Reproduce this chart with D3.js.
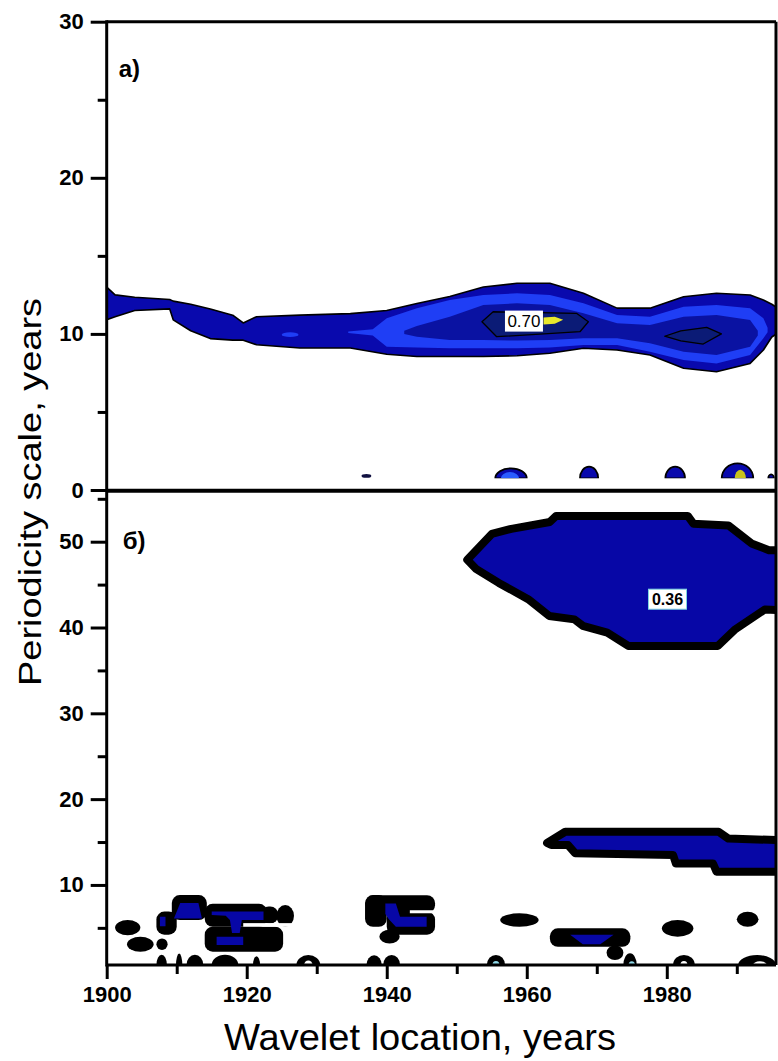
<!DOCTYPE html>
<html><head><meta charset="utf-8">
<script src="https://cdn.jsdelivr.net/npm/d3@7"></script>
<style>body{margin:0;background:#fff}</style>
</head><body>
<svg id="chart" width="778" height="1061"></svg>
<script>
// ---------------- DATA ----------------
const xTicksMajor = [1900, 1920, 1940, 1960, 1980];
const xTicksMinor = [1910, 1930, 1950, 1970, 1990];
const topTicksMajor = [0, 10, 20, 30];
const topTicksMinor = [5, 15, 25];
const botTicksMajor = [10, 20, 30, 40, 50];
const botTicksMinor = [5, 15, 25, 35, 45, 55];
const topFloor = 0.75;
const botFloor = 0.67;

// Panel a) : ridge levels (year, upper period, lower period)
const ridgeYears1 = [1900, 1901.2, 1904, 1909, 1909.5, 1912, 1914.8, 1918, 1919.5, 1921.4, 1927.6, 1934.8, 1940, 1944.3, 1949, 1953.8, 1958.6, 1963.3, 1968.1, 1972.9, 1977.6, 1982.4, 1987.1, 1991.9, 1993.8, 1995, 1996];
const ridgeUpper1 = [13.0, 12.5, 12.35, 12.2, 12.1, 11.9, 11.6, 11.2, 10.7, 11.1, 11.2, 11.3, 11.5, 11.95, 12.4, 13.0, 13.24, 13.24, 12.6, 11.65, 11.65, 12.38, 12.6, 12.49, 12.17, 11.9, 11.6];
const ridgeLower1 = [10.9, 11.1, 11.5, 11.6, 10.9, 10.2, 9.7, 9.6, 9.6, 9.3, 9.1, 9.1, 8.7, 8.55, 8.55, 8.55, 8.6, 8.76, 9.08, 8.97, 8.65, 7.8, 7.58, 8.11, 8.97, 9.8, 10.1];

const ridgeYears2 = [1934.5, 1938, 1940, 1944.3, 1949, 1953.8, 1958.6, 1963.3, 1968.1, 1972.9, 1977.6, 1982.4, 1987.1, 1991.9, 1993.8, 1994.4];
const ridgeUpper2 = [10.15, 10.3, 11.0, 11.64, 12.17, 12.49, 12.6, 12.49, 11.96, 11.21, 11.1, 11.74, 11.85, 11.64, 11.0, 10.4];
const ridgeLower2 = [10.05, 9.9, 9.18, 9.13, 9.08, 9.08, 9.08, 9.13, 9.29, 9.29, 8.86, 8.33, 8.11, 8.65, 9.72, 10.1];

const ridgeYears3 = [1942.5, 1944.3, 1949, 1953.8, 1958.6, 1963.3, 1968.1, 1972.9, 1977.6, 1982.4, 1987.1, 1991.9, 1993];
const ridgeUpper3 = [10.2, 10.5, 11.1, 11.85, 11.96, 11.85, 11.32, 10.68, 10.57, 11.1, 11.21, 10.89, 10.2];
const ridgeLower3 = [10.0, 9.82, 9.61, 9.61, 9.57, 9.61, 9.72, 9.72, 9.4, 8.86, 8.65, 9.18, 9.9];

const coreA = [[1953.6, 10.78], [1955.2, 11.42], [1967.1, 11.32], [1968.8, 10.78], [1967.6, 10.14], [1955.7, 9.82]];
const coreB = [[1979.7, 9.85], [1982, 10.2], [1985.7, 10.42], [1987.8, 10.0], [1985.2, 9.35], [1982, 9.55]];
const peakSpot = [[1962.4, 11.05], [1964, 11.1], [1965.2, 10.9], [1964, 10.65], [1962.4, 10.6]];
const peakLabel = {text: "0.70", year: 1959.6, period: 10.82};
// small bright specks inside the outer level [year, period, halfYears, halfPeriod]
const topSpecks = [[1926.2, 9.95, 1.2, 0.15]];
// small blobs near the floor [centre year, half width (years), peak period]
const topDomes = [[1957.75, 2.25, 1.39], [1968.9, 1.3, 1.5], [1981.2, 1.4, 1.5], [1990.1, 2.25, 1.71], [1994.9, 0.4, 1.0]];
const topDomeCores = [[1957.6, 1.3, 1.15, "#2a5cff"], [1990.5, 0.8, 1.3, "#c8c21e"]];
const topDash = [[1937.1, 0.9, 0.7, 0.12]];

// Panel б)
const bigBlob = [[1951.5, 47.9], [1955, 50.9], [1957.8, 51.5], [1963.3, 52.3], [1964.2, 53.0], [1983, 53.0], [1983.8, 52.1], [1988.8, 51.9], [1992.1, 49.8], [1994.6, 49.0], [1997, 49.0], [1997, 42.0], [1994, 42.1], [1989.8, 39.8], [1987.3, 37.85], [1974.5, 37.85], [1971.5, 39.4], [1968, 40.2], [1966.8, 40.95], [1963.2, 41.35], [1960.2, 43.3], [1956, 45.2], [1952.8, 46.8]];
const bigLabel = {text: "0.36", year: 1980.1, period: 43.3};
const midBand = [[1962.9, 14.9], [1965.5, 16.2], [1987.4, 16.2], [1988.8, 15.4], [1997, 15.2], [1997, 11.55], [1987.1, 11.55], [1986.6, 12.5], [1981.3, 12.5], [1980.9, 13.5], [1966.9, 13.7], [1965.9, 14.65], [1963.5, 14.65]];
// black blobs [year, period, halfYears, halfPeriod]
const botBlackEllipses = [[1903.0, 5.03, 1.8, 0.88], [1904.8, 3.09, 1.9, 0.87], [1907.9, 3.09, 0.8, 0.68], [1925.5, 6.4, 1.25, 1.25], [1940.4, 3.97, 1.45, 0.8], [1958.95, 5.91, 2.75, 0.78], [1972.6, 2.1, 1.2, 0.85], [1981.55, 4.94, 2.25, 0.98], [1991.55, 6.0, 1.55, 0.88]];
// black boxes [year0, year1, period0, period1]
const botBlackBoxes = [[1909.3, 1914.3, 5.91, 8.82], [1914.0, 1922.9, 5.13, 7.8], [1922.0, 1924.5, 5.5, 7.5], [1907.1, 1910.0, 4.2, 6.9], [1914.0, 1925.2, 2.22, 5.13], [1937.0, 1946.9, 6.7, 8.8], [1936.9, 1940.0, 5.13, 8.82], [1940.0, 1946.9, 4.2, 6.9], [1963.3, 1974.8, 2.8, 4.94]];
// blue fill inside black blobs
const botBlue = [
  [[1910.5, 7.9], [1913.1, 7.9], [1913.6, 6.1], [1909.6, 6.1]],
  [[1915, 6.9], [1922.4, 6.9], [1922.4, 5.9], [1919.3, 5.9], [1919.0, 4.4], [1917.9, 4.4], [1917.6, 5.9], [1917, 6.4], [1915, 6.5]],
  [[1915.7, 3.96], [1919.5, 3.96], [1919.5, 3.0], [1915.7, 3.0]],
  [[1907.6, 6.3], [1908.4, 6.3], [1908.4, 5.2], [1907.6, 5.2]],
  [[1939.8, 7.85], [1941.3, 7.85], [1941.9, 6.3], [1945.7, 6.3], [1945.7, 5.13], [1941.3, 5.13], [1940.3, 6.0], [1939.8, 6.6]],
  [[1966.2, 4.2], [1972.4, 4.2], [1970.5, 3.1], [1968, 3.1]]
];
// white gaps [year0, year1, period0, period1]
const botGaps = [[1919.5, 1926.7, 5.13, 5.55], [1943.3, 1946.7, 6.7, 7.05]];
// blobs on the floor [centre year, half width, peak period]
const botDomes = [[1907.85, 0.75, 1.85], [1910.35, 0.45, 2.0], [1912.6, 1.2, 1.85], [1916.9, 1.9, 1.85], [1921.4, 0.5, 1.7], [1928.8, 1.7, 1.83], [1938.2, 1.1, 1.8], [1940.7, 1.2, 1.85], [1955.6, 1.3, 1.85], [1974.75, 0.95, 2.03], [1982.45, 1.55, 1.85], [1992.9, 2.7, 1.83]];
const botDomeCores = [[1928.8, 0.6, 1.2, "#ffffff"], [1955.6, 0.5, 1.15, "#8fd8e8"], [1975.0, 0.45, 1.1, "#8fd8e8"], [1982.45, 0.5, 1.15, "#ffffff"], [1993.3, 1.0, 1.1, "#ffffff"]];

// ---------------- CHART ----------------
const svg = d3.select("#chart");
const x = d3.scaleLinear().domain([1900, 1995.6]).range([106.7, 776]);
const yTop = d3.scaleLinear().domain([0, 30]).range([490, 21.7]);
const yBot = d3.scaleLinear().domain([botFloor, 55.85]).range([965, 491.5]);

const FONT = "'Liberation Sans', Arial, Helvetica, sans-serif";
const C = {l1: "#0909ad", l2: "#1f3ef5", l3: "#0a12a2", core: "#0b1b76", yellow: "#e8e82c", blue: "#0707a6"};

const defs = svg.append("defs");
defs.append("clipPath").attr("id", "clipTop").append("rect")
  .attr("x", x(1900)).attr("y", yTop(30)).attr("width", x(1995.6) - x(1900)).attr("height", yTop(0) - yTop(30));
defs.append("clipPath").attr("id", "clipBot").append("rect")
  .attr("x", x(1900)).attr("y", yBot(55.85)).attr("width", x(1995.6) - x(1900)).attr("height", yBot(botFloor) - yBot(55.85));
defs.append("clipPath").attr("id", "clipTopFloor").append("rect")
  .attr("x", x(1900)).attr("y", yTop(30)).attr("width", x(1995.6) - x(1900)).attr("height", yTop(topFloor) - yTop(30));

const line = ys => d3.line().x(d => x(d[0])).y(d => ys(d[1]));
const bandPath = (years, up, lo, ys) => {
  const pts = years.map((d, i) => [d, up[i]]).concat(years.map((d, i) => [d, lo[i]]).reverse());
  return line(ys)(pts) + "Z";
};
const polyPath = (pts, ys) => line(ys)(pts) + "Z";
const domePath = (d, ys, floor) => {
  const x0 = x(d[0] - d[1]), x1 = x(d[0] + d[1]);
  const rx = (x1 - x0) / 2, ry = ys(floor) - ys(d[2]);
  return `M${x0},${ys(floor)}A${rx},${ry} 0 0 1 ${x1},${ys(floor)}Z`;
};

// ----- top panel -----
const gT = svg.append("g").attr("clip-path", "url(#clipTop)");
gT.append("path").attr("d", bandPath(ridgeYears1, ridgeUpper1, ridgeLower1, yTop))
  .attr("fill", C.l1).attr("stroke", "#000").attr("stroke-width", 1.6).attr("stroke-linejoin", "round");
gT.selectAll(".speck").data(topSpecks).join("ellipse")
  .attr("cx", d => x(d[0])).attr("cy", d => yTop(d[1]))
  .attr("rx", d => x(d[0] + d[2]) - x(d[0])).attr("ry", d => yTop(d[1] - d[3]) - yTop(d[1]))
  .attr("fill", C.l2);
gT.append("path").attr("d", bandPath(ridgeYears2, ridgeUpper2, ridgeLower2, yTop)).attr("fill", C.l2);
gT.append("path").attr("d", bandPath(ridgeYears3, ridgeUpper3, ridgeLower3, yTop)).attr("fill", C.l3);
[coreA, coreB].forEach(c => gT.append("path").attr("d", polyPath(c, yTop))
  .attr("fill", C.core).attr("stroke", "#000").attr("stroke-width", 1.3).attr("stroke-linejoin", "round"));
gT.append("path").attr("d", polyPath(peakSpot, yTop)).attr("fill", C.yellow);
{
  const lx = x(peakLabel.year), ly = yTop(peakLabel.period);
  gT.append("rect").attr("x", lx - 19).attr("y", ly - 10.5).attr("width", 38).attr("height", 21).attr("fill", "#fff");
  gT.append("text").attr("x", lx).attr("y", ly + 6).attr("text-anchor", "middle")
    .attr("font-family", FONT).attr("font-size", 17).attr("fill", "#000").text(peakLabel.text);
}
const gTF = svg.append("g").attr("clip-path", "url(#clipTopFloor)");
gTF.selectAll(".dome").data(topDomes).join("path")
  .attr("d", d => domePath(d, yTop, topFloor)).attr("fill", C.l1).attr("stroke", "#000").attr("stroke-width", 1.8);
gTF.selectAll(".domec").data(topDomeCores).join("path")
  .attr("d", d => domePath(d, yTop, topFloor)).attr("fill", d => d[3]);
gT.selectAll(".dash").data(topDash).join("ellipse")
  .attr("cx", d => x(d[0])).attr("cy", d => yTop(d[1]))
  .attr("rx", d => x(d[0] + d[2]) - x(d[0])).attr("ry", d => yTop(d[1] - d[3]) - yTop(d[1]))
  .attr("fill", "#101040");

// ----- bottom panel -----
const gB = svg.append("g").attr("clip-path", "url(#clipBot)");
const blackStroke = 8;
gB.append("path").attr("d", polyPath(bigBlob, yBot)).attr("fill", C.blue)
  .attr("stroke", "#000").attr("stroke-width", blackStroke).attr("stroke-linejoin", "round");
gB.append("path").attr("d", polyPath(midBand, yBot)).attr("fill", C.blue)
  .attr("stroke", "#000").attr("stroke-width", blackStroke).attr("stroke-linejoin", "round");
gB.selectAll(".be").data(botBlackEllipses).join("ellipse")
  .attr("cx", d => x(d[0])).attr("cy", d => yBot(d[1]))
  .attr("rx", d => x(d[0] + d[2]) - x(d[0])).attr("ry", d => yBot(d[1] - d[3]) - yBot(d[1]))
  .attr("fill", "#000");
gB.selectAll(".bb").data(botBlackBoxes).join("rect")
  .attr("x", d => x(d[0])).attr("y", d => yBot(d[3]))
  .attr("width", d => x(d[1]) - x(d[0])).attr("height", d => yBot(d[2]) - yBot(d[3]))
  .attr("rx", 8).attr("fill", "#000");
gB.selectAll(".bd").data(botDomes).join("path")
  .attr("d", d => domePath(d, yBot, botFloor)).attr("fill", "#000");
gB.selectAll(".bdc").data(botDomeCores).join("path")
  .attr("d", d => domePath(d, yBot, botFloor)).attr("fill", d => d[3]);
gB.selectAll(".bl").data(botBlue).join("path")
  .attr("d", d => polyPath(d, yBot)).attr("fill", C.blue);
gB.selectAll(".gap").data(botGaps).join("rect")
  .attr("x", d => x(d[0])).attr("y", d => yBot(d[3]))
  .attr("width", d => x(d[1]) - x(d[0])).attr("height", d => yBot(d[2]) - yBot(d[3]))
  .attr("fill", "#fff");
{
  const lx = x(bigLabel.year), ly = yBot(bigLabel.period);
  gB.append("rect").attr("x", lx - 19).attr("y", ly - 10).attr("width", 38).attr("height", 20)
    .attr("fill", "#fff").attr("stroke", "#7fd6e0").attr("stroke-width", 1);
  gB.append("text").attr("x", lx).attr("y", ly + 6).attr("text-anchor", "middle")
    .attr("font-family", FONT).attr("font-weight", "bold").attr("font-size", 16).attr("fill", "#000").text(bigLabel.text);
}

// ----- axes -----
function styleAxis(g) {
  g.select(".domain").remove();
  g.selectAll(".tick line").attr("stroke", "#000").attr("stroke-width", 3);
  g.selectAll(".tick text").attr("font-family", FONT).attr("font-weight", "bold").attr("font-size", 22).attr("fill", "#000");
}
svg.append("g").attr("transform", `translate(${x(1900)},0)`)
  .call(d3.axisLeft(yTop).tickValues(topTicksMajor).tickSize(16).tickPadding(7).tickFormat(d3.format("d"))).call(styleAxis);
svg.append("g").attr("transform", `translate(${x(1900)},0)`)
  .call(d3.axisLeft(yTop).tickValues(topTicksMinor).tickSize(9).tickFormat("")).call(styleAxis);
svg.append("g").attr("transform", `translate(${x(1900)},0)`)
  .call(d3.axisLeft(yBot).tickValues(botTicksMajor).tickSize(16).tickPadding(7).tickFormat(d3.format("d"))).call(styleAxis);
svg.append("g").attr("transform", `translate(${x(1900)},0)`)
  .call(d3.axisLeft(yBot).tickValues(botTicksMinor).tickSize(9).tickFormat("")).call(styleAxis);
svg.append("g").attr("transform", `translate(0,${yBot(botFloor)})`)
  .call(d3.axisBottom(x).tickValues(xTicksMajor).tickSize(14).tickPadding(7).tickFormat(d3.format("d"))).call(styleAxis);
svg.append("g").attr("transform", `translate(0,${yBot(botFloor)})`)
  .call(d3.axisBottom(x).tickValues(xTicksMinor).tickSize(9).tickFormat("")).call(styleAxis);

// frame lines
const frame = svg.append("g").attr("stroke", "#000").attr("fill", "none");
frame.append("line").attr("x1", x(1900)).attr("x2", x(1900)).attr("y1", yTop(30) - 1.5).attr("y2", yBot(botFloor) + 1.5).attr("stroke-width", 3);
frame.append("line").attr("x1", x(1900)).attr("x2", x(1995.6)).attr("y1", yTop(30)).attr("y2", yTop(30)).attr("stroke-width", 3);
frame.append("line").attr("x1", x(1995.6)).attr("x2", x(1995.6)).attr("y1", yTop(30)).attr("y2", yBot(botFloor)).attr("stroke-width", 3);
frame.append("line").attr("x1", x(1900)).attr("x2", x(1995.6)).attr("y1", (yTop(0) + yBot(55.85)) / 2).attr("y2", (yTop(0) + yBot(55.85)) / 2).attr("stroke-width", 4);
frame.append("line").attr("x1", x(1900)).attr("x2", x(1995.6)).attr("y1", yBot(botFloor)).attr("y2", yBot(botFloor)).attr("stroke-width", 3);

// panel letters
svg.append("text").attr("x", x(1900) + 12).attr("y", yTop(30) + 55).attr("font-family", FONT).attr("font-weight", "bold").attr("font-size", 24).text("a)");
svg.append("text").attr("x", x(1900) + 16).attr("y", yBot(55.85) + 57).attr("font-family", FONT).attr("font-weight", "bold").attr("font-size", 24).text("б)");

// axis titles
svg.append("text").attr("transform", `translate(41,492) rotate(-90)`).attr("text-anchor", "middle")
  .attr("font-family", FONT).attr("font-size", 32).attr("textLength", 388).attr("lengthAdjust", "spacingAndGlyphs")
  .text("Periodicity scale, years");
svg.append("text").attr("x", 420).attr("y", 1050).attr("text-anchor", "middle")
  .attr("font-family", FONT).attr("font-size", 36).attr("textLength", 392).attr("lengthAdjust", "spacingAndGlyphs")
  .text("Wavelet location, years");
</script>
</body></html>
